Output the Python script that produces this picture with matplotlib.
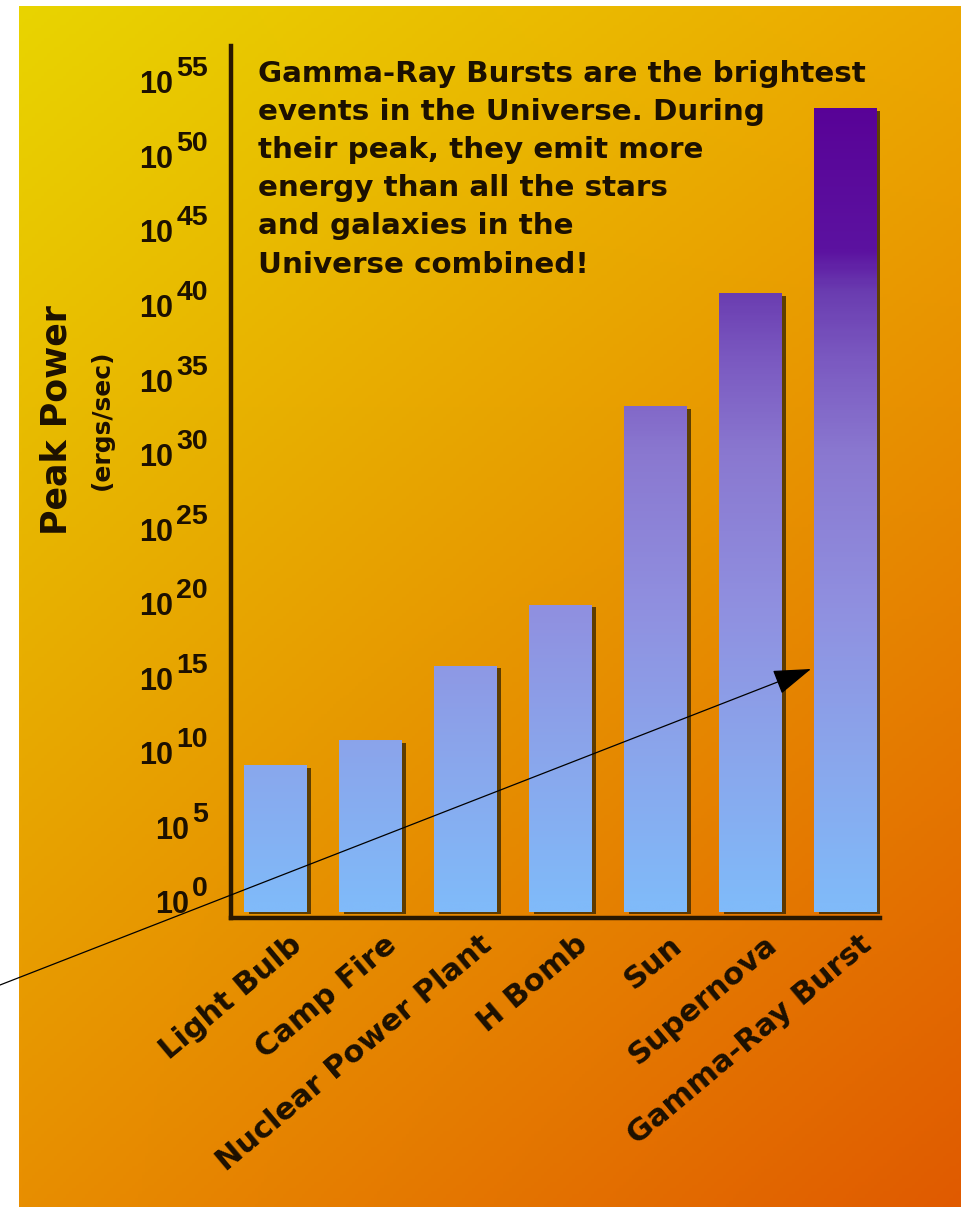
import numpy as np
import matplotlib
matplotlib.use('Agg')
import matplotlib.pyplot as plt
from matplotlib.colors import LinearSegmentedColormap, Normalize, to_rgb
from matplotlib.patches import FancyArrowPatch

# peak power of each source, as powers of ten (ergs/sec)
categories = ['Light Bulb', 'Camp Fire', 'Nuclear Power Plant', 'H Bomb',
              'Sun', 'Supernova', 'Gamma-Ray Burst']
log_power = [9.3, 11.0, 16.0, 20.1, 33.4, 41.0, 53.4]
tick_exponents = list(range(0, 60, 5))

note = ("Gamma-Ray Bursts are the brightest\n"
        "events in the Universe. During\n"
        "their peak, they emit more\n"
        "energy than all the stars\n"
        "and galaxies in the\n"
        "Universe combined!")

W, H = 962, 1207
ink = '#1c1000'
fig = plt.figure(figsize=(W / 100, H / 100), dpi=100)
fig.patch.set_facecolor('white')

# yellow -> orange background panel
bg = fig.add_axes([19 / W, 0, 1 - 19 / W, 1 - 6 / H])
bg.set_axis_off()
tl, tr = np.array(to_rgb('#e8d400')), np.array(to_rgb('#eca800'))
bl, br = np.array(to_rgb('#e88e00')), np.array(to_rgb('#e05a00'))
u = np.linspace(0, 1, 300)[None, :, None]
v = np.linspace(0, 1, 380)[:, None, None]
img = (1 - u) * (1 - v) * tl + u * (1 - v) * tr + (1 - u) * v * bl + u * v * br
bg.imshow(np.clip(img, 0, 1), aspect='auto', extent=(0, 1, 0, 1))
bg.set_xlim(0, 1)
bg.set_ylim(0, 1)

ax = fig.add_axes([231 / W, (H - 918) / H, (880 - 231) / W, (918 - 46) / H])
ax.patch.set_visible(False)
for s in ['top', 'right']:
    ax.spines[s].set_visible(False)
for s in ['left', 'bottom']:
    ax.spines[s].set_linewidth(3.2)
    ax.spines[s].set_color('#2a1800')
ax.set_xticks([])
ax.set_yticks([])

bar_cmap = LinearSegmentedColormap.from_list('power', [
    (0.00, '#80baf9'), (0.18, '#8aa6ec'), (0.36, '#9090e0'),
    (0.55, '#8a78d0'), (0.67, '#7a58c0'), (0.75, '#6a3cb0'),
    (0.80, '#5c12a0'), (1.00, '#580096')])
norm = Normalize(0, 55)
base = -0.5
width = 0.66
shift = 5 / 95

for i, top in enumerate(log_power):
    # drop shadow on the right
    ax.bar(i + shift, top - base, bottom=base - 0.1, width=width,
           color='#3c2800', alpha=0.8, zorder=1)
    ys = np.linspace(base, top, 300)[::-1]
    col = bar_cmap(norm(ys))[:, None, :3]
    ax.imshow(col, aspect='auto', interpolation='bilinear', zorder=2,
              extent=(i - width / 2, i + width / 2, base, top))
ax.set_xlim(-0.463, 6.368)
ax.set_ylim(-0.87, 57.65)
ax.set_aspect('auto')

for i, name in enumerate(categories):
    ax.annotate(name, xy=(i, 0), xycoords=('data', 'axes fraction'),
                xytext=(14 * 0.72, -12 * 0.72), textcoords='offset points',
                rotation=40, ha='right', va='top', rotation_mode='anchor',
                fontsize=22, fontweight='bold', color=ink,
                family='DejaVu Sans')

# power-of-ten labels: big "10" with a near full size exponent
renderer = fig.canvas.get_renderer()
for e in tick_exponents:
    sup = ax.annotate(str(e), xy=(0, e), xycoords=('axes fraction', 'data'),
                      xytext=(-23 * 0.72, 16 * 0.72), textcoords='offset points',
                      ha='right', va='center', fontsize=20.5, fontweight='bold',
                      color=ink, family='Liberation Sans')
    wpx = sup.get_window_extent(renderer).width
    ax.annotate('10', xy=(0, e), xycoords=('axes fraction', 'data'),
                xytext=(-(23 + wpx + 3) * 0.72, 0), textcoords='offset points',
                ha='right', va='center', fontsize=22, fontweight='bold',
                color=ink, family='Liberation Sans')

fig.text(57 / W, 1 - 420 / H, 'Peak Power', rotation=90, ha='center',
         va='center', fontsize=25, fontweight='bold', color=ink,
         family='DejaVu Sans')
fig.text(102 / W, 1 - 420 / H, '(ergs/sec)', rotation=90, ha='center',
         va='center', fontsize=18, fontweight='bold', color=ink,
         family='DejaVu Sans')

fig.text(258 / W, 1 - 60 / H, note, ha='left', va='top', fontsize=21.2,
         fontweight='bold', color=ink, family='DejaVu Sans', linespacing=1.46)

fig.patches.append(FancyArrowPatch(
    posA=(0, H - 985), posB=(811, H - 669), transform=None,
    arrowstyle='-|>,head_length=1.2,head_width=0.4', mutation_scale=20,
    color='black', lw=0.9, shrinkA=0, shrinkB=0, zorder=10))

fig.savefig('out.png', dpi=100)
